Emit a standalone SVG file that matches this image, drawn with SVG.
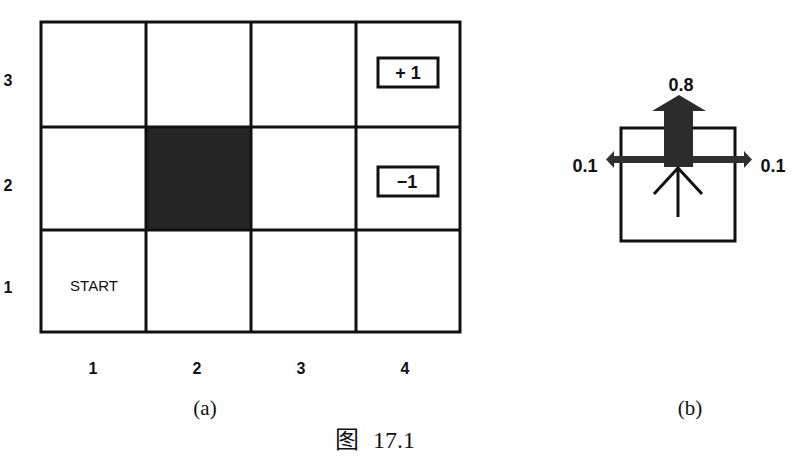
<svg xmlns="http://www.w3.org/2000/svg" width="791" height="468" viewBox="0 0 791 468">
<style>
.ln{stroke:#111;stroke-width:3;fill:none}
.lab{font-family:"Liberation Sans",Arial,sans-serif;font-weight:bold;fill:#111;text-anchor:middle}
.n{font-size:16px}
.big{font-size:18px}
.cap{font-family:"Liberation Serif","Times New Roman","Noto Sans CJK SC",serif;font-size:21px;fill:#111;text-anchor:middle}
</style>
<rect width="791" height="468" fill="#fff"/>
<g id="grid">
<rect x="146" y="127" width="105" height="103" fill="#262626"/>
<rect class="ln" x="41" y="22" width="419" height="310"/>
<line class="ln" x1="146" y1="22" x2="146" y2="332"/>
<line class="ln" x1="251" y1="22" x2="251" y2="332"/>
<line class="ln" x1="356" y1="22" x2="356" y2="332"/>
<line class="ln" x1="41" y1="127" x2="460" y2="127"/>
<line class="ln" x1="41" y1="230" x2="460" y2="230"/>
</g>
<g id="plus1">
<rect class="ln" x="378" y="58" width="60" height="29"/>
<text class="lab big" x="408" y="79">+ 1</text>
</g>
<g id="minus1">
<rect class="ln" x="378" y="167" width="60" height="29"/>
<text class="lab big" x="407" y="188">−1</text>
</g>
<g id="start"><text x="94" y="291" text-anchor="middle" font-family="Liberation Sans,Arial,sans-serif" font-size="15" fill="#111">START</text></g>
<g id="rowlabels">
<text class="lab n" x="8" y="86">3</text>
<text class="lab n" x="8" y="191">2</text>
<text class="lab n" x="8" y="293">1</text>
</g>
<g id="collabels">
<text class="lab n" x="93" y="374">1</text>
<text class="lab n" x="197" y="374">2</text>
<text class="lab n" x="301" y="374">3</text>
<text class="lab n" x="405" y="374">4</text>
</g>
<text class="cap" x="205" y="415">(a)</text>
<text class="cap" x="690" y="415">(b)</text>
<g id="panelb">
<rect class="ln" x="621" y="128" width="114" height="113"/>
<path d="M612 156 H745 V163 H612 Z" fill="#303030"/>
<path d="M606 159.5 L614 151 L614 168 Z" fill="#303030"/>
<path d="M752 159.5 L744 151 L744 168 Z" fill="#303030"/>
<path d="M664 167 V111 H652 L679 95 L706 111 H693 V167 Z" fill="#2c2c2c"/>
<line class="ln" x1="678" y1="217" x2="678" y2="168"/>
<polyline class="ln" points="654,194 678,168 702,194"/>
<text class="lab big" x="681" y="91">0.8</text>
<text class="lab big" x="585" y="172">0.1</text>
<text class="lab big" x="773" y="172">0.1</text>
</g>
<text x="375" y="448" text-anchor="middle" font-family="Liberation Serif,'Noto Sans CJK SC',serif" font-size="24" fill="#111">图 <tspan dx="8">17.1</tspan></text>
</svg>
